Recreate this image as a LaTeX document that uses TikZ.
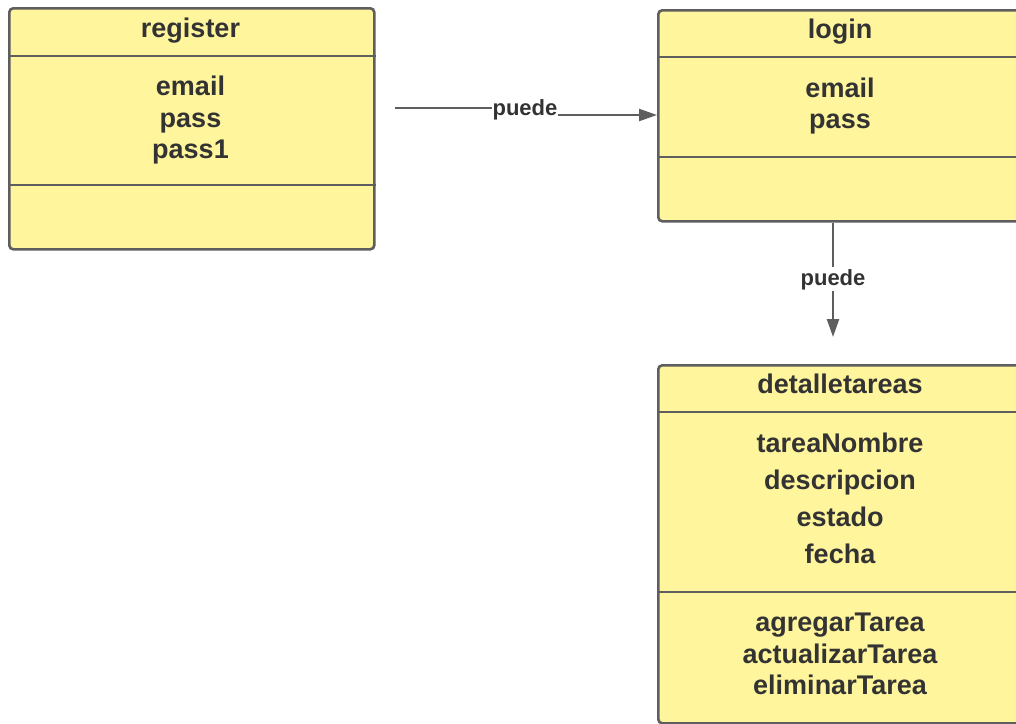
\documentclass[tikz,border=0pt]{standalone}
\usepackage{fontspec}
\setmainfont{Liberation Sans}
\usetikzlibrary{arrows.meta}

\definecolor{amarillo}{RGB}{255,245,157}
\definecolor{linea}{RGB}{94,94,94}
\definecolor{texto}{RGB}{51,51,51}

\tikzset{
  clase/.style={draw=linea, fill=amarillo, line width=2.6pt, rounded corners=4pt,
    anchor=north west, inner sep=0pt, minimum width=366pt},
  div/.style={draw=linea, line width=2.6pt},
  campo/.style={anchor=base, inner sep=0pt, text=texto,
    font=\fontsize{27}{30}\selectfont\bfseries},
  etiqueta/.style={anchor=base, inner xsep=0pt, inner ysep=1.5pt, text=texto,
    font=\fontsize{22}{24}\selectfont\bfseries},
  flecha/.style={draw=linea, line width=2.4pt},
}

\begin{document}
\begin{tikzpicture}[x=1pt, y=-1pt]

		\clip (0,0) rectangle (1016,723);

		% Clase register
		\node[clase, minimum width=365pt, minimum height=241pt] (register) at (8,7) {};
		\draw[div] (register.west |- 0,56) -- (register.east |- 0,56);
		\draw[div] (register.west |- 0,185) -- (register.east |- 0,185);
		\node[campo] (regTit) at (190.5,37) {register};
		\node[campo] (regEmail) at (190.5,95) {email};
		\node[campo] (regPass) at (190.5,127) {pass};
		\node[campo] (regPass1) at (190.5,158) {pass1};

		% Clase login
		\node[clase, minimum height=211pt] (login) at (657,9) {};
		\draw[div] (login.west |- 0,57) -- (login.east |- 0,57);
		\draw[div] (login.west |- 0,157) -- (login.east |- 0,157);
		\node[campo] (logTit) at (840,38) {login};
		\node[campo] (logEmail) at (840,97) {email};
		\node[campo] (logPass) at (840,128) {pass};

		% Clase detalletareas
		\node[clase, minimum height=358pt] (detalle) at (657,364) {};
		\draw[div] (detalle.west |- 0,412) -- (detalle.east |- 0,412);
		\draw[div] (detalle.west |- 0,592) -- (detalle.east |- 0,592);
		\node[campo] (detTit) at (840,393) {detalletareas};
		\node[campo] (detNombre) at (840,452) {tareaNombre};
		\node[campo] (detDesc) at (840,489) {descripcion};
		\node[campo] (detEstado) at (840,526) {estado};
		\node[campo] (detFecha) at (840,563) {fecha};
		\node[campo] (detAgregar) at (840,631) {agregarTarea};
		\node[campo] (detActualizar) at (840,663) {actualizarTarea};
		\node[campo] (detEliminar) at (840,694) {eliminarTarea};

		% Relacion register -> login
		\coordinate (hIni) at (395,108);
		\coordinate (hFin) at (login.west |- 0,115);
		\node[etiqueta] (puedeA) at (525,115) {puede};
		\draw[flecha] (hIni) -- (hIni -| puedeA.west);
		\draw[flecha, -{Triangle[length=18pt, width=12pt]}] (puedeA.east |- hFin) -- (hFin);

		% Relacion login -> detalletareas
		\node[etiqueta] (puedeB) at (833,285) {puede};
		\coordinate (vFin) at (833,337);
		\draw[flecha] (puedeB.north |- login.south) -- (puedeB.north);
		\draw[flecha, -{Triangle[length=18pt, width=12pt]}] (puedeB.south) -- (vFin);

\end{tikzpicture}
\end{document}
